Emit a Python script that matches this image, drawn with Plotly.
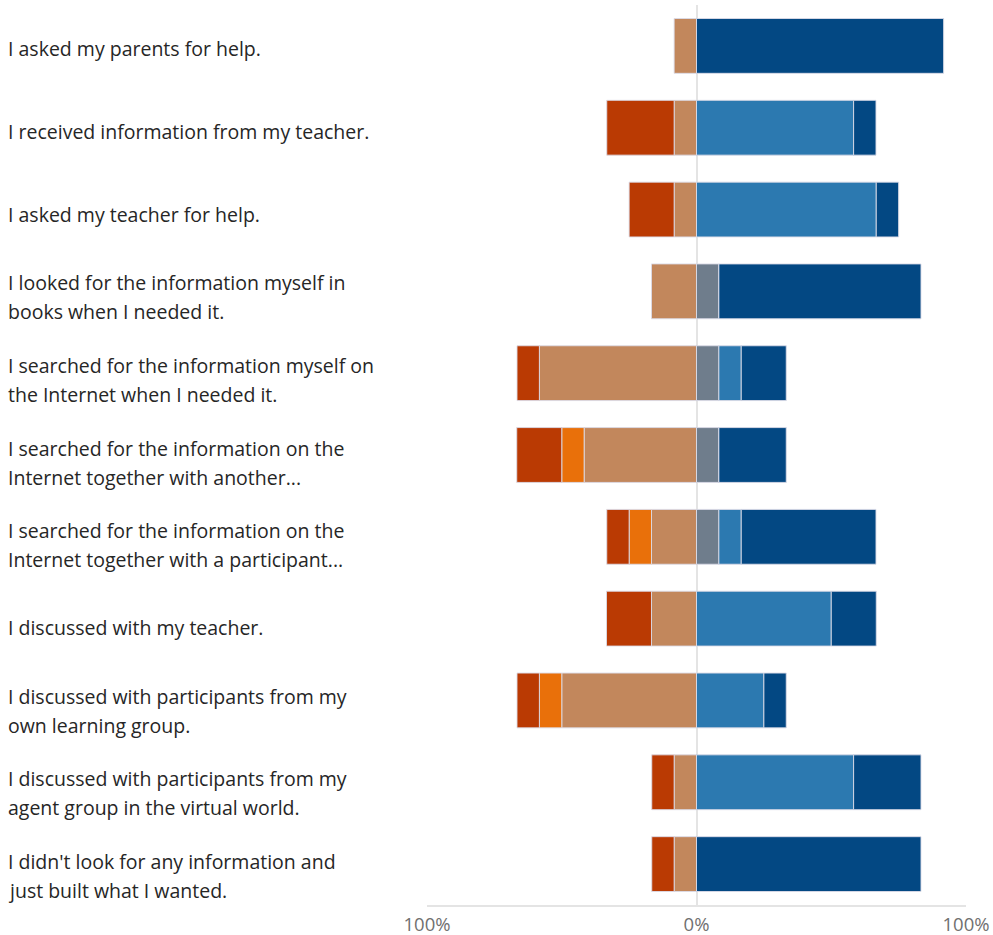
import plotly.graph_objects as go

# Survey statements (top to bottom); each inner list holds the wrapped lines
statements = [
    ["I asked my parents for help."],
    ["I received information from my teacher."],
    ["I asked my teacher for help."],
    ["I looked for the information myself in", "books when I needed it."],
    ["I searched for the information myself on", "the Internet when I needed it."],
    ["I searched for the information on the", "Internet together with another..."],
    ["I searched for the information on the", "Internet together with a participant..."],
    ["I discussed with my teacher."],
    ["I discussed with participants from my", "own learning group."],
    ["I discussed with participants from my", "agent group in the virtual world."],
    ["I didn't look for any information and", "just built what I wanted."],
]
categories = [" ".join(lines) for lines in statements]

# Share of responses per answer level, in percent
never = [0, 25.0, 16.7, 0, 8.3, 16.7, 8.3, 16.7, 8.3, 8.3, 8.3]
rarely = [0, 0, 0, 0, 0, 8.3, 8.3, 0, 8.3, 0, 0]
sometimes = [8.3, 8.3, 8.3, 16.7, 58.3, 41.7, 16.7, 16.7, 50.0, 8.3, 8.3]
neutral = [0, 0, 0, 8.3, 8.3, 8.3, 8.3, 0, 0, 0, 0]
often = [0, 58.3, 66.7, 0, 8.3, 0, 8.3, 50.0, 25.0, 58.3, 0]
always = [91.7, 8.3, 8.3, 75.0, 16.7, 25.0, 50.0, 16.7, 8.3, 25.0, 83.3]

tick_vals = [-100, 0, 100]
tick_text = ["100%", "0%", "100%"]

# (name, values, colour, side) — negative side stacks outward from zero
series = [
    ("Sometimes", sometimes, "#C2875C", -1),
    ("Rarely", rarely, "#E9700A", -1),
    ("Never", never, "#BA3A03", -1),
    ("Neutral", neutral, "#6F7D8C", 1),
    ("Often", often, "#2C79B0", 1),
    ("Always", always, "#034883", 1),
]

fig = go.Figure()
for name, vals, color, side in series:
    fig.add_trace(go.Bar(
        y=categories,
        x=[side * v for v in vals],
        name=name,
        orientation="h",
        marker=dict(color=color, line=dict(color="rgba(220,220,232,0.9)", width=1)),
        hoverinfo="name+x",
    ))

# Left-aligned statement labels, one annotation per wrapped line
plot_left, plot_right = 427, 966
plot_top, plot_bottom = 5, 905
plot_w = plot_right - plot_left
line_gap = 29
label_font = dict(family="Open Sans, sans-serif", size=19.5, color="#262626")
for i, (cat, lines) in enumerate(zip(categories, statements)):
    block_shift = -(3 + 0.9 * i)
    n = len(lines)
    for j, line in enumerate(lines):
        offset = (j - (n - 1) / 2) * line_gap
        fig.add_annotation(
            x=-(plot_left - 6) / plot_w, xref="paper",
            y=cat, yref="y",
            yshift=block_shift - offset,
            text=line, showarrow=False,
            xanchor="left", yanchor="middle", align="left",
            font=label_font,
        )

fig.update_layout(
    barmode="relative",
    bargap=0.33,
    width=993, height=935,
    margin=dict(l=plot_left, r=993 - plot_right, t=plot_top, b=935 - plot_bottom),
    plot_bgcolor="white",
    paper_bgcolor="white",
    showlegend=False,
    font=dict(family="Open Sans, sans-serif"),
)
fig.update_xaxes(
    range=[-100, 100],
    tickvals=tick_vals, ticktext=tick_text,
    showgrid=True, gridcolor="#E4E4E4", gridwidth=2,
    zeroline=True, zerolinecolor="#E4E4E4", zerolinewidth=2,
    showline=True, linecolor="#E4E4E4", linewidth=2,
    tickfont=dict(size=18.5, color="#707070"),
    ticks="",
    ticklabelstandoff=2,
    automargin=False,
    fixedrange=True,
)
fig.update_yaxes(
    autorange="reversed",
    showticklabels=False,
    showgrid=False,
    automargin=False,
    fixedrange=True,
)

fig.write_html("out.html")
